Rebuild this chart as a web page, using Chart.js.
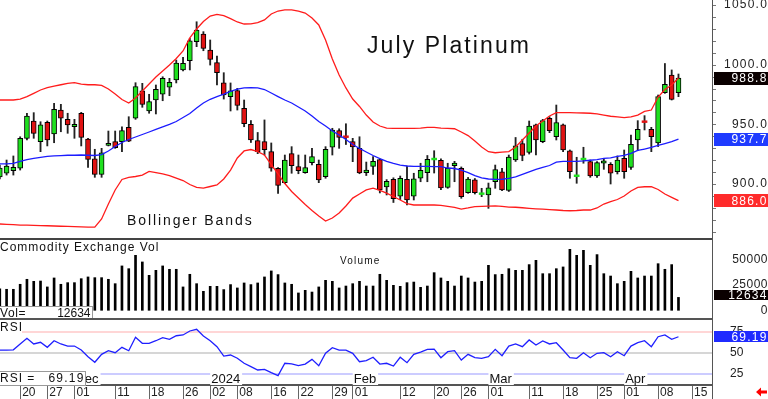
<!DOCTYPE html>
<html><head><meta charset="utf-8">
<script src="https://cdn.jsdelivr.net/npm/chart.js"></script>
<style>
html,body{margin:0;padding:0;background:#fff;width:768px;height:399px;overflow:hidden;position:relative;}
canvas{position:absolute;left:0;}
.ln{position:absolute;}
</style></head><body>
<canvas id="cPrice" width="768" height="239" style="top:0px"></canvas>
<canvas id="cVol" width="768" height="81" style="top:239px"></canvas>
<canvas id="cRsi" width="768" height="79" style="top:320px"></canvas>
<div class="ln" style="left:0;top:238px;width:713px;height:2px;background:#444"></div>
<div class="ln" style="left:0;top:318px;width:713px;height:2px;background:#555"></div>
<div class="ln" style="left:712px;top:0;width:1px;height:399px;background:#555"></div>
<script>
// ---------------- DATA ----------------
const dates = [
'2023-11-15','2023-11-16','2023-11-17','2023-11-20','2023-11-21','2023-11-22','2023-11-24','2023-11-27','2023-11-28','2023-11-29','2023-11-30',
'2023-12-01','2023-12-04','2023-12-05','2023-12-06','2023-12-07','2023-12-08','2023-12-11','2023-12-12','2023-12-13','2023-12-14','2023-12-15','2023-12-18','2023-12-19','2023-12-20','2023-12-21','2023-12-22','2023-12-26','2023-12-27','2023-12-28','2023-12-29',
'2024-01-02','2024-01-03','2024-01-04','2024-01-05','2024-01-08','2024-01-09','2024-01-10','2024-01-11','2024-01-12','2024-01-16','2024-01-17','2024-01-18','2024-01-19','2024-01-22','2024-01-23','2024-01-24','2024-01-25','2024-01-26','2024-01-29','2024-01-30','2024-01-31',
'2024-02-01','2024-02-02','2024-02-05','2024-02-06','2024-02-07','2024-02-08','2024-02-09','2024-02-12','2024-02-13','2024-02-14','2024-02-15','2024-02-16','2024-02-20','2024-02-21','2024-02-22','2024-02-23','2024-02-26','2024-02-27','2024-02-28','2024-02-29',
'2024-03-01','2024-03-04','2024-03-05','2024-03-06','2024-03-07','2024-03-08','2024-03-11','2024-03-12','2024-03-13','2024-03-14','2024-03-15','2024-03-18','2024-03-19','2024-03-20','2024-03-21','2024-03-22','2024-03-25','2024-03-26','2024-03-27','2024-03-28',
'2024-04-01','2024-04-02','2024-04-03','2024-04-04','2024-04-05','2024-04-08','2024-04-09','2024-04-10','2024-04-11'];
const futureDates = ['2024-04-12','2024-04-15'];

const opens = [905.9,909.0,911.2,913.2,938.3,952.8,935.5,951.7,941.9,962.0,
954.2,948.0,959.3,937.7,921.0,908.1,932.4,935.5,935.5,947.5,
955.1,978.2,961.2,970.4,975.2,981.1,987.2,995.6,1003.4,1019.3,
1025.7,1012.3,1001.7,984.9,973.3,978.4,963.5,950.1,936.3,935.5,
927.1,913.2,901.1,925.4,914.5,909.5,917.9,916.5,906.1,930.8,
944.7,940.1,935.5,929.9,909.5,914.8,920.4,897.5,904.0,889.9,
904.0,889.9,904.8,909.5,920.7,919.9,897.2,915.4,913.2,892.7,
903.4,891.6,890.8,901.9,910.3,894.6,920.1,933.9,926.4,949.5,
935.5,955.1,939.6,949.5,927.9,906.5,920.6,918.7,906.7,917.4,
916.5,910.3,921.5,914.0,936.9,952.6,945.9,934.4,976.5,991.4,976.5];
const highs = [915.9,920.1,923.5,939.6,959.3,959.8,952.2,952.8,967.6,966.8,
959.3,954.2,960.1,938.2,929.1,929.9,944.4,944.4,948.0,956.4,
984.9,984.4,975.2,983.0,989.9,988.6,1003.9,1006.2,1022.1,1036.0,
1027.7,1020.7,1007.3,993.3,984.7,980.2,970.4,953.2,943.2,953.7,
934.4,913.8,924.3,931.3,924.3,924.3,929.9,920.1,931.3,946.7,
946.3,950.5,938.3,939.6,918.4,922.9,921.1,903.7,905.2,906.7,
915.1,909.0,917.4,923.9,927.9,921.1,917.4,919.0,914.3,905.5,
904.6,896.4,900.8,915.9,913.2,924.3,939.0,937.5,952.8,950.3,
954.2,956.4,966.2,950.3,928.5,922.4,930.8,920.1,918.7,921.5,
917.9,923.5,928.5,941.1,953.1,957.3,947.5,974.6,1001.0,995.6,992.2];
const lows = [904.2,907.5,907.5,911.7,936.9,938.3,927.1,931.9,934.6,943.8,
942.5,938.3,931.9,914.0,905.6,905.6,931.9,929.9,927.1,935.5,
954.2,964.3,959.3,958.7,969.8,974.0,984.7,994.7,995.6,1015.1,
1011.7,999.7,983.0,971.2,961.2,962.0,948.0,934.8,925.4,924.3,
910.7,892.2,900.3,909.0,908.6,909.0,915.9,901.1,904.8,924.3,
929.9,933.1,918.7,908.6,907.1,908.0,892.5,890.8,884.5,886.9,
882.4,886.6,901.9,901.9,909.2,895.3,896.4,901.9,888.0,892.2,
891.6,889.4,879.6,896.4,894.4,893.7,918.9,919.5,925.1,924.3,
934.6,943.0,936.9,927.1,904.8,900.6,917.4,905.6,905.6,912.3,
900.0,908.4,904.8,912.3,927.9,945.3,927.1,931.4,976.0,970.4,973.2];
const closes = [913.4,915.1,914.0,938.3,957.0,942.5,949.5,936.9,962.6,955.1,
949.5,950.0,939.1,920.7,908.1,926.2,934.1,930.4,944.7,936.0,
981.6,966.8,969.0,979.4,988.6,985.2,1001.4,1001.2,1020.1,1029.1,
1013.7,1004.5,993.3,974.6,978.0,965.8,950.5,936.9,927.1,928.8,
913.2,898.9,920.1,915.3,911.2,913.7,922.9,903.4,929.1,945.3,
939.1,939.2,931.0,909.2,911.7,919.0,895.0,902.3,887.8,904.8,
886.6,904.4,911.4,920.7,921.2,896.8,913.2,917.6,889.4,904.2,
892.7,892.2,896.7,912.0,895.0,922.6,931.9,923.9,948.6,936.9,
953.1,944.7,951.4,928.5,910.3,907.3,921.3,906.7,917.9,919.5,
909.0,920.1,910.3,933.3,945.9,951.9,939.6,973.2,983.6,971.0,988.8];

const upperBand = [970.4,970.4,970.4,971.2,973.2,976.0,978.8,980.7,982.1,983.2,
984.4,984.9,983.8,983.2,983.2,982.6,979.6,975.4,970.8,967.9,
972.1,977.9,983.8,989.7,994.7,999.7,1005.2,1011.5,1022.4,1029.9,
1036.2,1040.8,1042.2,1041.2,1038.6,1035.8,1034.1,1034.3,1035.2,1037.5,
1042.5,1045.0,1045.9,1045.9,1045.0,1043.3,1039.1,1033.3,1020.7,1004.8,
991.4,980.5,971.2,965.0,957.8,952.0,948.6,946.9,946.7,946.7,
946.7,946.7,946.9,947.4,947.5,946.9,946.7,946.3,943.6,940.6,
936.0,931.0,927.1,926.2,926.8,927.2,931.0,936.9,942.7,948.6,
952.8,957.0,959.8,959.8,959.8,959.7,959.5,959.3,958.7,957.8,
956.8,956.2,955.7,956.3,957.8,960.8,962.0,972.9,979.2,983.0,988.8];
const midBand = [916.8,916.8,917.2,918.9,920.5,921.5,922.4,923.1,923.5,923.8,
924.1,924.1,924.3,924.1,923.9,924.7,927.7,931.4,934.8,937.3,
939.4,941.5,943.6,945.7,947.8,949.9,952.4,955.7,959.1,963.7,
967.9,971.0,973.3,975.4,977.7,979.6,980.6,980.7,980.5,979.2,
976.3,973.3,970.4,967.9,964.5,961.2,957.0,952.4,948.6,944.4,
941.1,937.3,933.1,929.8,926.8,923.9,921.2,918.9,917.2,915.9,
915.1,914.7,914.7,914.7,914.6,914.5,913.4,913.0,911.7,909.6,
907.1,905.2,904.2,903.8,904.0,904.8,905.9,908.0,910.1,912.2,
914.0,915.5,918.4,918.9,918.9,919.0,919.3,919.9,920.5,921.4,
921.9,923.1,923.9,925.6,928.1,929.3,930.6,932.3,933.9,935.6,937.7];
const lowerBand = [866.5,866.2,866.0,865.6,865.5,865.3,865.1,865.0,864.8,864.6,
864.5,864.3,864.1,863.9,863.9,870.7,883.2,895.0,903.8,905.6,
906.3,907.5,910.5,909.6,908.4,907.1,905.0,902.9,899.6,897.1,
896.6,897.9,899.2,904.2,911.7,921.8,927.7,928.9,927.2,924.3,
916.3,908.4,900.4,893.7,888.2,882.8,877.8,873.2,869.0,871.5,
875.7,881.6,888.2,891.6,895.0,896.6,894.6,892.4,889.5,886.6,
883.6,882.4,882.4,882.4,882.4,882.0,881.3,880.5,879.0,879.9,
881.0,881.2,881.4,881.6,881.2,880.7,880.5,880.1,879.6,879.2,
878.9,878.6,878.2,877.8,877.6,877.8,878.2,878.2,879.9,883.2,
885.3,887.0,889.9,894.1,897.1,897.7,897.7,895.4,891.6,888.8,886.0];

const volumes = [21000,20600,20600,25500,30400,28400,28700,22900,31700,25500,
27100,27100,31000,32700,32000,32000,30400,26100,43500,40800,
53900,47400,34300,39200,43500,40200,40200,22900,35300,26100,
18600,23500,23500,20300,25200,21900,26800,25200,26800,32700,
38600,35000,26800,25500,17000,19600,17900,22900,29400,28400,
21900,23800,26100,28400,23800,23800,35300,29400,24500,23500,
27100,27700,22500,23800,36900,31700,28400,23800,33600,31700,
27700,28400,44100,35000,35300,40800,39200,39200,44800,49000,
35900,35900,40800,42500,59800,53900,58800,44100,54600,35900,
33600,26100,28400,38200,31700,33600,33600,45700,40200,44800,12634];

const rsiValues = [53.2,53.2,53.5,60.5,67.3,60.5,62.5,56.5,64.4,60.5,
58,58,53.2,45.2,38.5,48,52.4,50,56.5,52.4,
68.5,61.3,61.3,64.4,68,66,70.4,71.3,76.1,78.1,
70.1,64.4,57.2,46,47.2,43.3,37.3,33.2,29.2,30,
26,22.4,37.3,36.5,34.4,36.4,42,34.4,49.3,56,
53.2,53.2,49.3,39.2,40.4,44.5,36.4,37.3,34,44.5,
38,48,50.8,54,54.4,44,51.2,52.4,41.2,48,
44,43.3,45.2,54,46.4,58,60.5,57.2,65.3,59.3,
64.1,60.5,62,53.2,44,43.3,50,44,49.3,50,
45.2,51.2,46.4,58,62,64.4,57.2,69.2,71.3,66,69.19];

const priceTicks = [900, 950, 1000, 1050];
const volTicks = [0, 25000, 50000];
const rsiTicks = [25, 50, 75];
const dayTickDates = ['2023-11-20','2023-11-27','2023-12-01','2023-12-11','2023-12-18','2023-12-26','2024-01-02','2024-01-08','2024-01-16','2024-01-22','2024-01-29','2024-02-01','2024-02-12','2024-02-20','2024-02-26','2024-03-01','2024-03-11','2024-03-18','2024-03-25','2024-04-01','2024-04-08','2024-04-15'];
const dayTickLabels = ['20','27','01','11','18','26','02','08','16','22','29','01','12','20','26','01','11','18','25','01','08','15'];
const monthStarts = ['2023-12-01','2024-01-02','2024-02-01','2024-03-01','2024-04-01'];
const monthLabels = ['Dec','2024','Feb','Mar','Apr'];
const chartTitle = 'July Platinum';
const studyLabel = 'Bollinger Bands';
const volPanelLabel = 'Commodity Exchange Vol';

// ---------------- SETUP ----------------
const FONT = '"Liberation Sans", Arial, Helvetica, sans-serif';
const X_MIN = 0.03, X_MAX = 104.94;
const allDates = dates.concat(futureDates);
const idxOf = d => allDates.indexOf(d);
const dayTickIdx = dayTickDates.map(idxOf);
const last = dates.length - 1;
const GREEN = '#1fe01f', RED = '#e01212';

function txt(ctx, s, x, y, o) {
  ctx.save();
  ctx.font = o.font; ctx.fillStyle = o.color || '#111';
  ctx.textAlign = o.align || 'left'; ctx.textBaseline = o.base || 'alphabetic';
  ctx.letterSpacing = (o.ls || 0) + 'px';
  ctx.fillText(s, x, y);
  ctx.restore();
}
function valBox(ctx, cy, bg, label, h) {
  ctx.save();
  ctx.fillStyle = bg; ctx.fillRect(714, Math.round(cy - h / 2), 54, h);
  ctx.fillStyle = '#fff'; ctx.font = '12px ' + FONT; ctx.textAlign = 'right'; ctx.textBaseline = 'middle';
  ctx.letterSpacing = '1.2px'; ctx.fillText(label, 767.5, cy + 0.5);
  ctx.restore();
}
function spacing(px) {
  return { id: 'spacing', beforeUpdate(c) { c.ctx.letterSpacing = px + 'px'; }, beforeDraw(c) { c.ctx.letterSpacing = px + 'px'; } };
}
function fixY(w) { return s => { s.width = w; s.paddingTop = 0; s.paddingBottom = 0; }; }
function hiddenX() { return { type: 'linear', min: X_MIN, max: X_MAX, offset: false, display: false, grid: { display: false } }; }
const base = { responsive: false, animation: false, devicePixelRatio: 1, layout: { padding: 0, autoPadding: false },
  plugins: { legend: { display: false }, tooltip: { enabled: false }, title: { display: false } } };

// candle pieces
const bodyData = [], bodyColors = [], bodyBorders = [];
dates.forEach((d, i) => {
  const o = opens[i], c = closes[i];
  let lo = Math.min(o, c), hi = Math.max(o, c), bw = 1;
  if (hi - lo < 1.2) { const m = (o + c) / 2; lo = m - 0.75; hi = m + 0.75; bw = 0; }
  bodyData.push({ x: i, y: [lo, hi] });
  bodyColors.push(c >= o ? GREEN : RED);
  bodyBorders.push(bw);
});

// ---------------- PRICE ----------------
new Chart(document.getElementById('cPrice'), {
  type: 'bar',
  data: { datasets: [
    { type: 'line', data: dates.map((d, i) => ({ x: i, y: upperBand[i] })), borderColor: '#ff1c1c', borderWidth: 1.3, pointRadius: 0, order: 0 },
    { type: 'line', data: dates.map((d, i) => ({ x: i, y: midBand[i] })), borderColor: '#1c1cff', borderWidth: 1.3, pointRadius: 0, order: 0 },
    { type: 'line', data: dates.map((d, i) => ({ x: i, y: lowerBand[i] })), borderColor: '#ff1c1c', borderWidth: 1.3, pointRadius: 0, order: 0 },
    { type: 'bar', data: bodyData, backgroundColor: bodyColors, borderColor: '#000', borderWidth: bodyBorders, borderSkipped: false, barThickness: 5, grouped: false, order: 1 },
    { type: 'bar', data: dates.map((d, i) => ({ x: i, y: [lows[i], highs[i]] })), backgroundColor: '#222', borderWidth: 0, barThickness: 1.2, grouped: false, order: 2 }
  ] },
  options: Object.assign({}, base, {
    scales: {
      x: hiddenX(),
      y: { position: 'right', min: 853.9, max: 1054.23, afterFit: fixY(56),
        afterBuildTicks: s => { s.ticks = priceTicks.map(v => ({ value: v })); },
        grid: { display: false }, border: { display: false },
        ticks: { callback: v => Number(v).toFixed(1), color: '#222', font: { family: FONT, size: 12 }, crossAlign: 'far', padding: 12 } }
    }
  }),
  plugins: [spacing(1.2), {
    id: 'priceDeco',
    afterDraw(c) {
      const ctx = c.ctx, y = c.scales.y;
      txt(ctx, chartTitle, 367, 52.5, { font: '23px ' + FONT, ls: 2.1 });
      txt(ctx, studyLabel, 127, 225, { font: '14px ' + FONT, ls: 1.9 });
      ctx.save(); ctx.strokeStyle = '#777'; ctx.lineWidth = 1;
      for (let v = 860; v <= 1050; v += 10) { const p = Math.round(y.getPixelForValue(v)) + 0.5; ctx.beginPath(); ctx.moveTo(713, p); ctx.lineTo(716, p); ctx.stroke(); }
      ctx.restore();
      valBox(ctx, y.getPixelForValue(closes[last]), '#0a0000', closes[last].toFixed(1), 13);
      valBox(ctx, y.getPixelForValue(midBand[last]), '#1f3bff', midBand[last].toFixed(1), 13);
      valBox(ctx, y.getPixelForValue(lowerBand[last]), '#ff2b2b', lowerBand[last].toFixed(1), 13);
    }
  }]
});

// ---------------- VOLUME ----------------
new Chart(document.getElementById('cVol'), {
  type: 'bar',
  data: { datasets: [
    { data: dates.map((d, i) => ({ x: i, y: volumes[i] })), backgroundColor: '#000', borderWidth: 0, barThickness: 2, grouped: false }
  ] },
  options: Object.assign({}, base, {
    scales: {
      x: hiddenX(),
      y: { position: 'right', min: -9510, max: 69900, afterFit: fixY(56),
        afterBuildTicks: s => { s.ticks = volTicks.map(v => ({ value: v })); },
        grid: { display: false }, border: { display: false },
        ticks: { callback: v => String(v), color: '#222', font: { family: FONT, size: 12 }, crossAlign: 'far', padding: 18 } }
    }
  }),
  plugins: [spacing(0.5), {
    id: 'volDeco',
    afterDraw(c) {
      const ctx = c.ctx, y = c.scales.y;
      txt(ctx, volPanelLabel, 0, 12, { font: '12px ' + FONT, ls: 1 });
      txt(ctx, 'Volume', 340, 25, { font: '10px ' + FONT, ls: 1.2 });
      ctx.save(); ctx.fillStyle = '#fff'; ctx.fillRect(0, 67, 93, 13);
      ctx.strokeStyle = '#999'; ctx.lineWidth = 1; ctx.strokeRect(-0.5, 67.5, 93, 13); ctx.restore();
      txt(ctx, 'Vol=', 0, 77.5, { font: '12px ' + FONT, ls: 0.6 });
      txt(ctx, String(volumes[last]), 90.5, 77.5, { font: '12px ' + FONT, align: 'right' });
      const zp = y.getPixelForValue(0);
      valBox(ctx, Math.min(y.getPixelForValue(volumes[last]), zp - 15.5), '#0a0000', String(volumes[last]), 10);
    }
  }]
});

// ---------------- RSI ----------------
const rsiLineColors = { 25: '#ccccff', 50: '#d6d6d6', 75: '#ffd6d6' };
new Chart(document.getElementById('cRsi'), {
  type: 'line',
  data: { datasets: [
    { data: dates.map((d, i) => ({ x: i, y: rsiValues[i] })), borderColor: '#1f1fff', borderWidth: 1.3, pointRadius: 0 }
  ] },
  options: Object.assign({}, base, {
    scales: {
      x: { type: 'linear', min: X_MIN, max: X_MAX, offset: false, position: 'bottom',
        afterBuildTicks: s => { s.ticks = dayTickIdx.map(v => ({ value: v })); },
        afterFit: s => { s.height = 14; s.paddingLeft = 0; s.paddingRight = 0; },
        grid: { display: true, drawOnChartArea: false, drawTicks: true, tickLength: 14, tickColor: '#666', tickWidth: 1, offset: false },
        border: { display: true, color: '#555', width: 2 },
        ticks: { autoSkip: false, maxRotation: 0, minRotation: 0, align: 'start', labelOffset: 2, padding: -14,
          color: '#222', font: { family: FONT, size: 12 },
          callback: v => { const k = dayTickIdx.indexOf(v); return k >= 0 ? dayTickLabels[k] : ''; } } },
      y: { position: 'right', min: 11.2, max: 89.3, afterFit: fixY(56),
        afterBuildTicks: s => { s.ticks = rsiTicks.map(v => ({ value: v })); },
        grid: { display: true, drawOnChartArea: true, drawTicks: false, lineWidth: 2, color: ctx => rsiLineColors[ctx.tick ? ctx.tick.value : 50] || '#ddd' },
        border: { display: false },
        ticks: { callback: v => String(v), color: '#222', font: { family: FONT, size: 12 }, crossAlign: 'near', padding: 18 } }
    }
  }),
  plugins: [{
    id: 'rsiDeco',
    beforeDatasetsDraw(c) {
      const ctx = c.ctx, x = c.scales.x;
      monthStarts.forEach((d, k) => {
        const px = x.getPixelForValue(idxOf(d));
        ctx.save(); ctx.font = '13px ' + FONT;
        const w = ctx.measureText(monthLabels[k]).width;
        ctx.fillStyle = '#fff'; ctx.fillRect(px, 51, w + 3, 14); ctx.restore();
        txt(ctx, monthLabels[k], px + 1, 63.3, { font: '13px ' + FONT });
      });
    },
    afterDraw(c) {
      const ctx = c.ctx, y = c.scales.y;
      ctx.save(); ctx.fillStyle = '#fff'; ctx.fillRect(0, 1, 22, 12); ctx.restore();
      txt(ctx, 'RSI', 0, 10.5, { font: '12px ' + FONT, ls: 1 });
      ctx.save(); ctx.fillStyle = '#fff'; ctx.fillRect(0, 51.5, 86, 13.5);
      ctx.strokeStyle = '#999'; ctx.lineWidth = 1; ctx.strokeRect(-0.5, 51.5, 86, 14); ctx.restore();
      txt(ctx, 'RSI =', 0, 61.7, { font: '12px ' + FONT, ls: 1 });
      txt(ctx, rsiValues[last].toFixed(2), 84.5, 61.7, { font: '12px ' + FONT, ls: 1.2, align: 'right' });
      valBox(ctx, y.getPixelForValue(rsiValues[last]), '#1f2bff', rsiValues[last].toFixed(2), 11);
      // red arrow
      ctx.save(); ctx.fillStyle = '#ff0000';
      ctx.beginPath(); ctx.moveTo(756, 72); ctx.lineTo(761, 67.5); ctx.lineTo(761, 70.5); ctx.lineTo(767, 70.5);
      ctx.lineTo(767, 73.5); ctx.lineTo(761, 73.5); ctx.lineTo(761, 76.5); ctx.closePath(); ctx.fill(); ctx.restore();
    }
  }]
});
</script>
</body></html>
